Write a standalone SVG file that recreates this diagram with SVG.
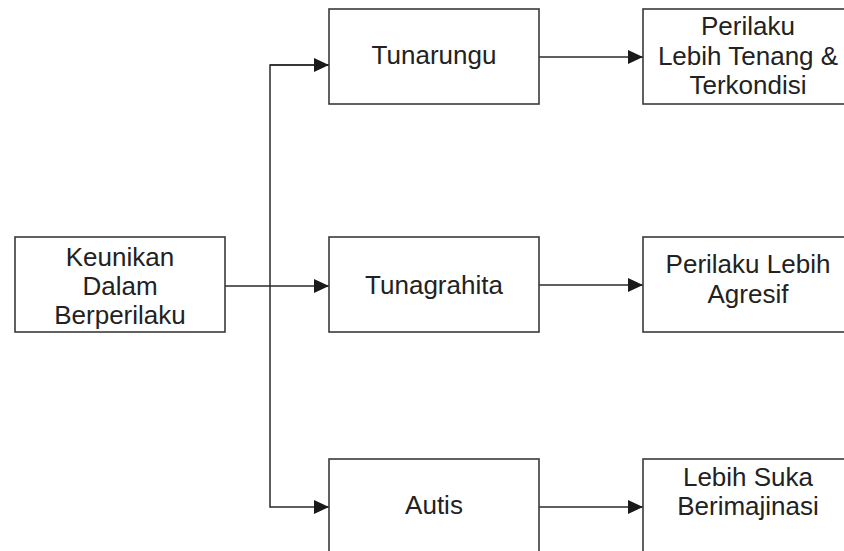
<svg xmlns="http://www.w3.org/2000/svg" width="844" height="551" viewBox="0 0 844 551">
  <defs>
    <style>
      .box { fill: #ffffff; stroke: #3a3a3a; stroke-width: 1.6; }
      .lbl { font-family: "Liberation Sans", Arial, sans-serif; font-size: 26px; fill: #222222; text-anchor: middle; }
      .wire { fill: none; stroke: #2a2a2a; stroke-width: 1.5; }
    </style>
    <marker id="arrow" viewBox="0 0 15 14" refX="15" refY="7" markerWidth="15" markerHeight="14" markerUnits="userSpaceOnUse" orient="auto">
      <path d="M0,0 L15,7 L0,14 Z" fill="#1a1a1a"/>
    </marker>
  </defs>
  <rect width="844" height="551" fill="#ffffff"/>

  <g id="connectors">
    <!-- trunk from the root box through the split point -->
    <line class="wire" x1="225" y1="286" x2="329" y2="286" marker-end="url(#arrow)"/>
    <path class="wire" d="M329,65 H270 V507 H329" marker-end="url(#arrow)"/>
    <line class="wire" x1="270" y1="65" x2="329" y2="65" marker-end="url(#arrow)"/>
    <!-- second column to third column -->
    <line class="wire" x1="539" y1="57" x2="643" y2="57" marker-end="url(#arrow)"/>
    <line class="wire" x1="539" y1="285" x2="643" y2="285" marker-end="url(#arrow)"/>
    <line class="wire" x1="539" y1="507" x2="643" y2="507" marker-end="url(#arrow)"/>
  </g>

  <g id="keunikan">
    <rect class="box" x="15" y="237" width="210" height="95"/>
    <text class="lbl" x="120" y="266">Keunikan</text>
    <text class="lbl" x="120" y="295">Dalam</text>
    <text class="lbl" x="120" y="324">Berperilaku</text>
  </g>

  <g id="tunarungu">
    <rect class="box" x="329" y="9" width="210" height="95"/>
    <text class="lbl" x="434" y="64">Tunarungu</text>
  </g>

  <g id="tunagrahita">
    <rect class="box" x="329" y="237" width="210" height="95"/>
    <text class="lbl" x="434" y="294">Tunagrahita</text>
  </g>

  <g id="autis">
    <rect class="box" x="329" y="459" width="210" height="110"/>
    <text class="lbl" x="434" y="514">Autis</text>
  </g>

  <g id="tenang">
    <rect class="box" x="643" y="9" width="210" height="95"/>
    <text class="lbl" x="748" y="35">Perilaku</text>
    <text class="lbl" x="748" y="65">Lebih Tenang &amp;</text>
    <text class="lbl" x="748" y="94">Terkondisi</text>
  </g>

  <g id="agresif">
    <rect class="box" x="643" y="237" width="210" height="95"/>
    <text class="lbl" x="748" y="273">Perilaku Lebih</text>
    <text class="lbl" x="748" y="303">Agresif</text>
  </g>

  <g id="imajinasi">
    <rect class="box" x="643" y="459" width="210" height="110"/>
    <text class="lbl" x="748" y="486">Lebih Suka</text>
    <text class="lbl" x="748" y="515">Berimajinasi</text>
  </g>
</svg>
